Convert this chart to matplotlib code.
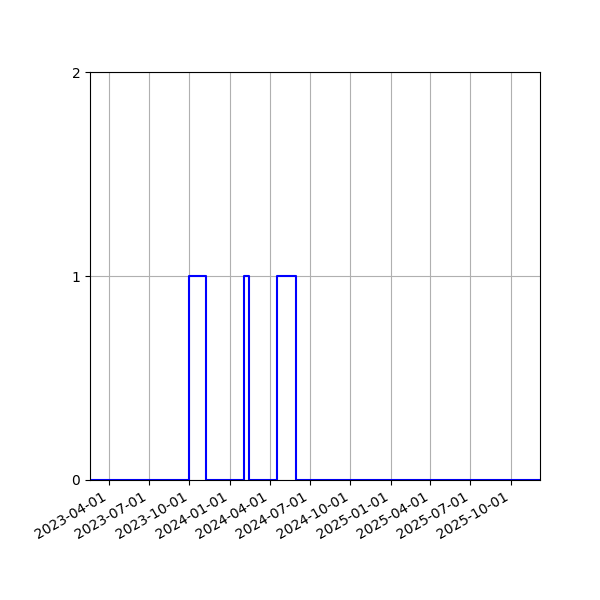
import matplotlib
matplotlib.use("Agg")
import matplotlib.pyplot as plt
import matplotlib.dates as mdates
import numpy as np
import pandas as pd

change_dates = ['2023-02-17', '2023-09-29', '2023-11-08', '2024-02-02',
                '2024-02-14', '2024-04-17', '2024-05-30', '2025-12-06']
values = [0, 1, 0, 1, 0, 1, 0, 0]
y_ticks = [0, 1, 2]

dates = pd.to_datetime(change_dates)

fig, ax = plt.subplots(figsize=(6, 6), dpi=100)
fig.subplots_adjust(left=0.15, right=0.9, top=0.88)
ax.step(dates, values, where='post', color='blue')
ax.set_xlim(dates[0], dates[-1])
ax.set_ylim(0, 2)
ax.set_yticks(y_ticks)
ax.xaxis.set_major_locator(mdates.MonthLocator(bymonth=[1, 4, 7, 10]))
ax.xaxis.set_major_formatter(mdates.DateFormatter('%Y-%m-%d'))
ax.grid(True)
fig.autofmt_xdate()
fig.savefig('out.png')
